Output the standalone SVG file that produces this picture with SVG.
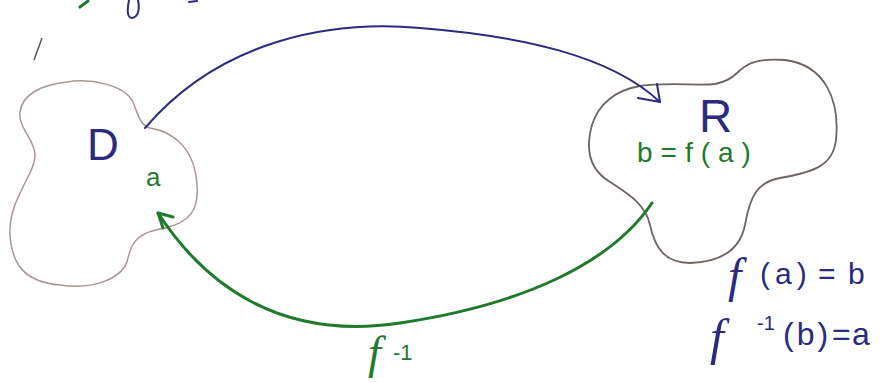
<svg xmlns="http://www.w3.org/2000/svg" width="892" height="383" viewBox="0 0 892 383">
<style>
.blob{fill:none;stroke-linejoin:round}
.blue{fill:none;stroke:#2b2a7e;stroke-width:2;stroke-linecap:round;stroke-linejoin:round}
.green{fill:none;stroke:#1f7a2c;stroke-width:3;stroke-linecap:round;stroke-linejoin:round}
.tb{fill:#2b2a7e;font-family:"Liberation Sans","DejaVu Sans",sans-serif}
.tg{fill:#1f7a2c;font-family:"Liberation Sans","DejaVu Sans",sans-serif}
.fx{font-family:"Liberation Serif","DejaVu Serif",serif;font-style:italic}
</style>
<rect width="892" height="383" fill="#ffffff"/>
<g id="marks">
<path d="M80,7 L88,1" stroke="#1f7a2c" stroke-width="3" fill="none" stroke-linecap="round"/>
<path d="M138,0 C140,10 138,17 132,18 C127,18 127,10 129,0" class="blue"/>
<path d="M189,2 L197,1" class="blue"/>
<path d="M34,60 L42,38" stroke="#555" stroke-width="1.5" fill="none"/>
</g>
<g id="D">
<path class="blob" stroke="#a89692" stroke-width="1.5" d="M67,82 C90,78 125,85 133,102 C138,115 140,125 150,128 C175,132 195,150 197,185 C199,210 190,222 165,228 C140,232 132,240 128,258 C124,278 95,290 60,285 C25,282 12,265 10,235 C8,200 35,175 35,155 C35,140 18,128 20,112 C22,95 40,85 67,82 Z"/>
<text class="tb" x="87" y="160" font-size="44">D</text>
<text class="tg" x="146" y="186" font-size="26">a</text>
</g>
<g id="R">
<path class="blob" stroke="#6e6460" stroke-width="1.8" d="M737,73 C748,62 760,58 785,60 C825,65 840,100 836,140 C833,165 815,172 780,178 C758,182 750,195 745,225 C740,250 720,262 690,263 C665,263 655,248 650,225 C646,205 630,195 610,182 C590,170 585,150 592,125 C598,105 615,90 640,86 C665,82 700,86 715,84 C725,82 732,78 737,73 Z"/>
<text class="tb" x="699" y="132" font-size="46">R</text>
<text class="tg" x="637" y="162" font-size="28" letter-spacing="8">b=f(a)</text>
</g>
<g id="connectors">
<path class="blue" d="M145,128 C220,40 330,20 420,28 C520,36 610,55 660,102"/>
<path class="blue" d="M638,98 L660,102 L657,84"/>
<path class="green" d="M652,203 C610,265 520,305 400,323 C280,341 205,285 158,213"/>
<path class="green" d="M173,217 L158,213 L163,228"/>
<text class="tg" y="368"><tspan class="fx" x="368" font-size="46">f</tspan><tspan x="393" y="360" font-size="22">-1</tspan></text>
</g>
<g id="equations">
<text class="tb" y="284" font-size="30"><tspan class="fx" x="728" y="292" font-size="48">f</tspan><tspan x="760" y="284" letter-spacing="5">(a)</tspan><tspan x="818">=</tspan><tspan x="848">b</tspan></text>
<text class="tb" y="345" font-size="32"><tspan class="fx" x="710" y="354" font-size="50">f</tspan><tspan x="757" y="330" font-size="20">-1</tspan><tspan x="783" y="345" letter-spacing="3">(b)</tspan><tspan x="832">=</tspan><tspan x="852">a</tspan></text>
</g>
</svg>
